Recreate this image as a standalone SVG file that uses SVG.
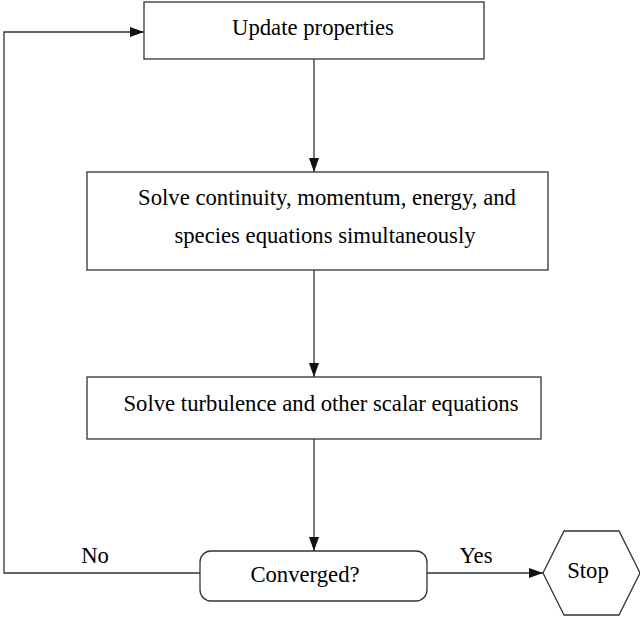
<svg xmlns="http://www.w3.org/2000/svg" width="640" height="617" viewBox="0 0 640 617">
<style>
.box{fill:#fff;stroke:#333;stroke-width:1.3}
.c{fill:none;stroke:#333;stroke-width:1.3}
text{font-family:"Liberation Serif","Times New Roman",serif;font-size:22.7px;fill:#000}
</style>
<defs>
<marker id="ah" markerWidth="14" markerHeight="10" refX="14" refY="5" orient="auto" markerUnits="userSpaceOnUse">
<path d="M0,0 L14,5 L0,10 Z" fill="#111"/>
</marker>
</defs>
<rect width="640" height="617" fill="#fff"/>
<g id="connectors">
<line class="c" x1="314" y1="59" x2="314" y2="172" marker-end="url(#ah)"/>
<line class="c" x1="314" y1="270" x2="314" y2="377" marker-end="url(#ah)"/>
<line class="c" x1="314" y1="439" x2="314" y2="551" marker-end="url(#ah)"/>
<polyline class="c" points="200,573 4,573 4,32 144,32" marker-end="url(#ah)"/>
<line class="c" x1="427" y1="573" x2="543" y2="573" marker-end="url(#ah)"/>
<text x="95" y="563" text-anchor="middle">No</text>
<text x="476" y="563" text-anchor="middle">Yes</text>
</g>
<g id="update">
<rect class="box" x="144" y="2" width="340" height="57"/>
<text x="313" y="35" text-anchor="middle">Update properties</text>
</g>
<g id="solve1">
<rect class="box" x="87" y="172" width="461" height="98"/>
<text x="327" y="205" text-anchor="middle">Solve continuity, momentum, energy, and</text>
<text x="325" y="243" text-anchor="middle">species equations simultaneously</text>
</g>
<g id="solve2">
<rect class="box" x="87" y="377" width="454" height="62"/>
<text x="321" y="411" text-anchor="middle">Solve turbulence and other scalar equations</text>
</g>
<g id="converged">
<rect class="box" x="200" y="551" width="227" height="50" rx="11"/>
<text x="305" y="582" text-anchor="middle">Converged?</text>
</g>
<g id="stop">
<polygon class="box" points="543,573 564,531 619,531 640,573 619,615 564,615"/>
<text x="588" y="578" text-anchor="middle">Stop</text>
</g>
</svg>
